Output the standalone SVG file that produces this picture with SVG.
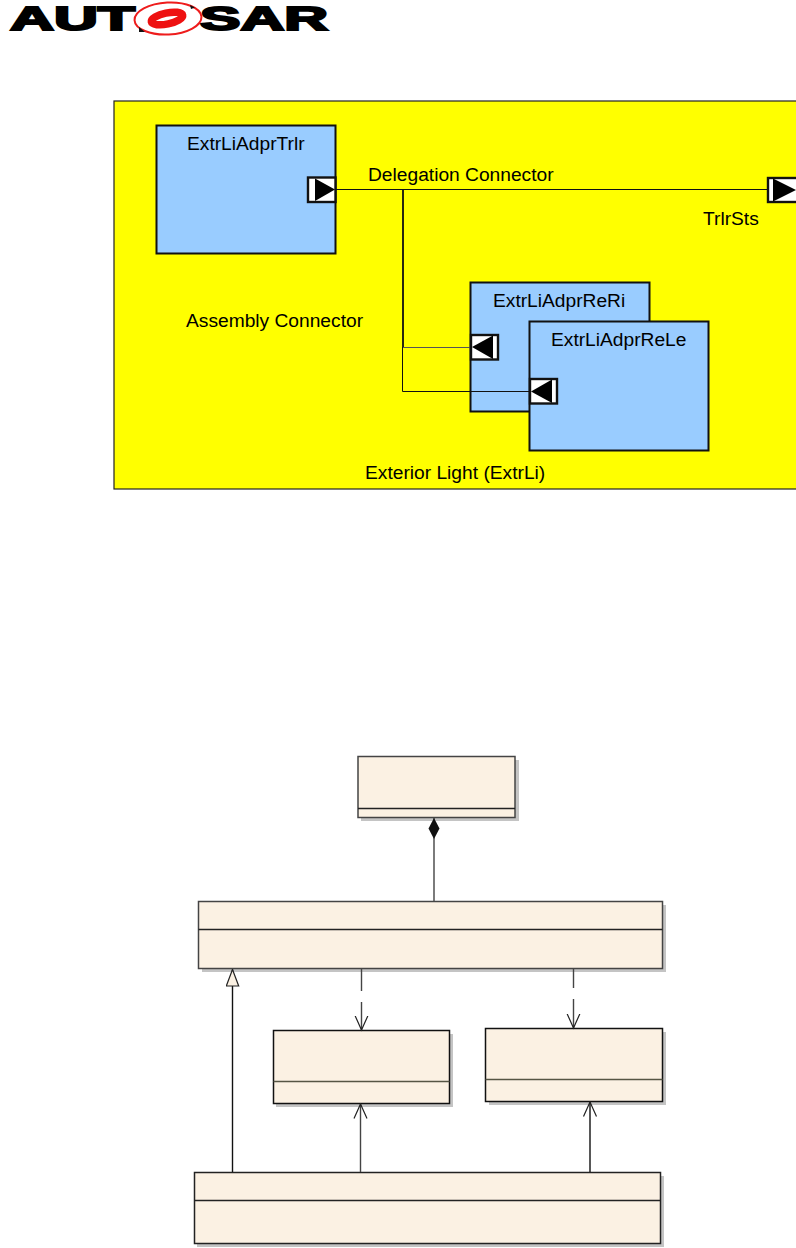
<svg xmlns="http://www.w3.org/2000/svg" width="796" height="1248" viewBox="0 0 796 1248">
<style>
text{font-family:"Liberation Sans",Arial,sans-serif;fill:#000}
.lb{font-size:19.200px}
.logo{font-size:33px;font-weight:bold;stroke:#000;stroke-width:2}
.blue{fill:#99ccff;stroke:#111;stroke-width:2}
.port{fill:#fff;stroke:#111;stroke-width:2.4}
.cls{fill:#fbf1e3;stroke:#444;stroke-width:1.5}
.sh{fill:#c4c4c4}
.sep{stroke:#222;stroke-width:1.4;fill:none}
.c{stroke:#111;stroke-width:1;fill:none}
.u{stroke:#444;stroke-width:1.4;fill:none}
</style>
<defs>
<marker id="open" viewBox="0 0 16 16" refX="14.5" refY="8" markerWidth="16" markerHeight="16" markerUnits="userSpaceOnUse" orient="auto-start-reverse"><path d="M0 1.5L14.5 8L0 14.5" fill="none" stroke="#222" stroke-width="1.2"/></marker>
<marker id="tri" viewBox="0 0 18 14" refX="17" refY="7" markerWidth="18" markerHeight="14" markerUnits="userSpaceOnUse" orient="auto"><path d="M0.5 0.8L17 7L0.5 13.2Z" fill="#fbf1e3" stroke="#222" stroke-width="1.2"/></marker>
<marker id="dia" viewBox="0 0 22 12" refX="21.5" refY="6" markerWidth="22" markerHeight="12" markerUnits="userSpaceOnUse" orient="auto"><path d="M0.5 6L11 0.5L21.5 6L11 11.5Z" fill="#111"/></marker>
</defs>
<g id="logo">
<text class="logo" x="10" y="30" textLength="125" lengthAdjust="spacingAndGlyphs">AUT</text>
<text class="logo" x="200" y="30" textLength="128" lengthAdjust="spacingAndGlyphs">SAR</text>
<ellipse cx="168" cy="18.500" rx="33.500" ry="16" fill="#fff" stroke="#ee1c1c" stroke-width="2" transform="rotate(-3 168 18.500)"/>
<ellipse cx="167" cy="18.500" rx="16" ry="5.500" fill="none" stroke="#ee1111" stroke-width="7.500" transform="rotate(-12 167 18.500)"/>
<path d="M190 5L195 7.500L191 9ZM139 27L145 32L139 32Z" fill="#111"/>
</g>
<g id="exterior-light">
<rect x="114" y="101" width="690" height="388" fill="#ffff00" stroke="#222" stroke-width="1.2"/>
<text class="lb" x="365" y="479">Exterior Light (ExtrLi)</text>
<text class="lb" x="186" y="327">Assembly Connector</text>
<text class="lb" x="703" y="225">TrlrSts</text>
<text class="lb" x="368" y="181">Delegation Connector</text>
</g>
<g id="ExtrLiAdprTrlr">
<rect class="blue" x="156.500" y="125.500" width="179" height="128"/>
<text class="lb" x="187" y="150">ExtrLiAdprTrlr</text>
</g>
<g id="ExtrLiAdprReRi">
<rect class="blue" x="470.500" y="282.500" width="179" height="129"/>
<text class="lb" x="493" y="307">ExtrLiAdprReRi</text>
</g>
<g id="ExtrLiAdprReLe">
<rect class="blue" x="529.500" y="321.500" width="179" height="129"/>
<text class="lb" x="551" y="346">ExtrLiAdprReLe</text>
</g>
<g id="connectors-top">
<path class="c" d="M336 189.500H768"/>
<path d="M403 189V347" stroke="#111" stroke-width="1.8" fill="none"/>
<path class="c" d="M402.500 347V391.500H530"/>
<path d="M403 347.500H471" stroke="#555" stroke-width="1" fill="none"/>
</g>
<g id="port-trlr-out">
<rect class="port" x="308" y="177.500" width="27.500" height="24.500"/>
<path d="M315 178.500L335 189.500L315 201Z" fill="#000"/>
</g>
<g id="port-reri">
<rect class="port" x="471" y="335" width="27" height="24.500"/>
<path d="M472 347L493 335.500V359Z" fill="#000"/>
</g>
<g id="port-rele">
<rect class="port" x="530" y="379" width="27" height="24.500"/>
<path d="M531 391.500L552 379.500V403Z" fill="#000"/>
</g>
<g id="port-trlrsts">
<rect class="port" x="768" y="178" width="40" height="24"/>
<path d="M773 178.500L796 190L773 201.500Z" fill="#000"/>
</g>
<g id="class-top">
<rect class="sh" x="361" y="760" width="158" height="61"/>
<rect class="cls" x="358" y="756.500" width="157" height="61"/>
<path class="sep" d="M358 808.500H515"/>
</g>
<g id="class-mid">
<rect class="sh" x="202" y="905" width="464" height="67"/>
<rect class="cls" x="198.500" y="901.500" width="464" height="67"/>
<path class="sep" d="M198.500 929.500H662.500"/>
</g>
<g id="class-left">
<rect class="sh" x="276" y="1034" width="177" height="73"/>
<rect class="cls" x="273.500" y="1030.500" width="176" height="73" style="stroke:#111"/>
<path class="sep" d="M273.500 1081.500H449.500" style="stroke:#554"/>
</g>
<g id="class-right">
<rect class="sh" x="489" y="1032" width="177" height="73"/>
<rect class="cls" x="485.500" y="1028.500" width="177" height="73" style="stroke:#111"/>
<path class="sep" d="M485.500 1079.500H662.500" style="stroke:#554"/>
</g>
<g id="class-bottom">
<rect class="sh" x="197" y="1176" width="467" height="71"/>
<rect class="cls" x="194.500" y="1172.500" width="466" height="71" style="stroke:#222"/>
<path class="sep" d="M194.500 1200.500H660.500"/>
</g>
<g id="connectors-bottom">
<path class="u" d="M434 901V818" marker-end="url(#dia)"/>
<path class="u" d="M361.500 969V991M361.500 1002V1030" marker-end="url(#open)"/>
<path class="u" d="M573.500 969V988M573.500 999V1028" marker-end="url(#open)"/>
<path class="u" d="M232.500 1172V969.500" style="stroke:#111" marker-end="url(#tri)"/>
<path class="u" d="M360.500 1172V1104" marker-end="url(#open)"/>
<path class="u" d="M590 1172V1102" style="stroke:#111" marker-end="url(#open)"/>
</g>
</svg>
